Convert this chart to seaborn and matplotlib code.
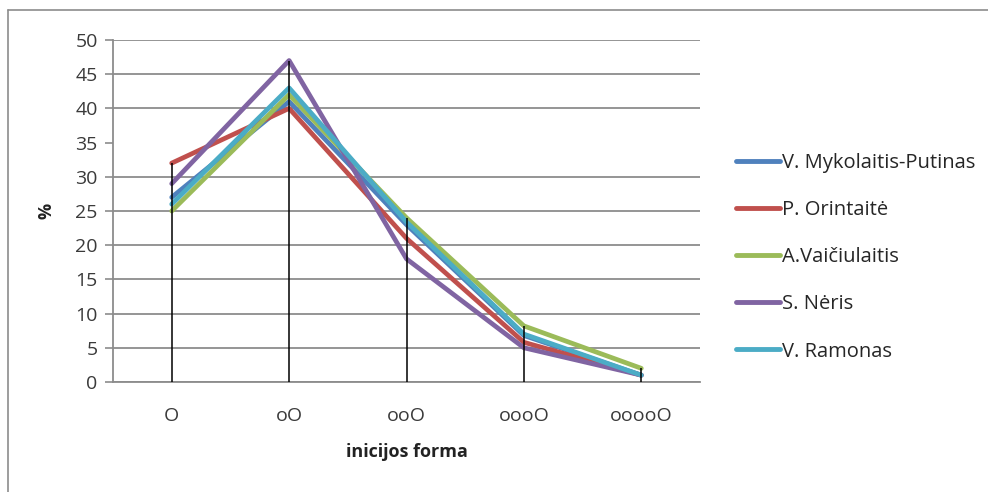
import matplotlib
matplotlib.use("Agg")
import matplotlib.pyplot as plt
from matplotlib.lines import Line2D
import seaborn as sns
import numpy as np
import pandas as pd

categories = ["O", "oO", "ooO", "oooO", "ooooO"]
mykolaitis = [27, 41, 23, 6.8, 1]
orintaite = [32, 40, 21, 5.8, 1]
vaiciulaitis = [25, 42, 24, 8.2, 2]
neris = [29, 47, 18, 5, 1]
ramonas = [26, 43, 23.4, 7, 1]
series_names = ["V. Mykolaitis-Putinas", "P. Orintaitė", "A.Vaičiulaitis", "S. Nėris", "V. Ramonas"]
series_values = [mykolaitis, orintaite, vaiciulaitis, neris, ramonas]
colors = ["#4F81BD", "#C0504D", "#9BBB59", "#8064A2", "#4BACC6"]
y_ticks = [0, 5, 10, 15, 20, 25, 30, 35, 40, 45, 50]

rows = []
for name, vals in zip(series_names, series_values):
    for c, v in zip(categories, vals):
        rows.append({"forma": c, "value": v, "series": name})
df = pd.DataFrame(rows)

sns.set_theme(style="white")
plt.rcParams["font.family"] = ["Open Sans", "DejaVu Sans"]

fig = plt.figure(figsize=(9.88, 4.92), dpi=100)
ax = fig.add_axes([113/988, 1-382/492, (700-113)/988, (382-40)/492])

sns.lineplot(data=df, x="forma", y="value", hue="series", palette=colors,
             hue_order=series_names, linewidth=3.4, ax=ax, sort=False, legend=True)

# drop lines from the highest value at each category to the axis
maxvals = np.max(np.array(series_values), axis=0)
ax.vlines(categories, 0, maxvals, colors="black", linewidth=1.1, zorder=5)

ax.set_xlim(-0.5, 4.5)
ax.set_ylim(0, 50)
ax.set_yticks(y_ticks)
ax.yaxis.grid(True, color="#8c8c8c", linewidth=1.3)
ax.set_axisbelow(True)
for t, gl, tk in zip(y_ticks, ax.yaxis.get_gridlines(), ax.yaxis.get_major_ticks()):
    if t == 35:
        gl.set_visible(False)
        tk.tick1line.set_visible(False)

for s in ["top", "right"]:
    ax.spines[s].set_visible(False)
for s in ["left", "bottom"]:
    ax.spines[s].set_color("#8c8c8c")
    ax.spines[s].set_linewidth(1.3)

ax.tick_params(axis="y", which="major", left=True, length=6, width=1.2, color="#8c8c8c",
               labelsize=14, labelcolor="#3a3a3a", pad=5)
ax.tick_params(axis="x", bottom=False, labelsize=14, labelcolor="#3a3a3a", pad=12)

ax.set_xlabel("inicijos forma", fontsize=13, fontweight="bold", color="#222222", labelpad=13)
ax.set_ylabel("%", fontsize=13, fontweight="bold", color="#222222", labelpad=14)

leg = ax.legend(loc="center left", bbox_to_anchor=(1.03, 0.365), frameon=False,
                fontsize=14.5, handlelength=2.2, handletextpad=0.1, labelspacing=1.35)
for h in leg.get_lines():
    h.set_linewidth(3.5)

# outer chart border (left and top visible)
fig.add_artist(Line2D([8/988, 8/988], [0, 1-10/492], color="#8c8c8c", linewidth=1.2))
fig.add_artist(Line2D([8/988, 1], [1-10/492, 1-10/492], color="#8c8c8c", linewidth=1.2))

fig.savefig("out.png", dpi=100)
